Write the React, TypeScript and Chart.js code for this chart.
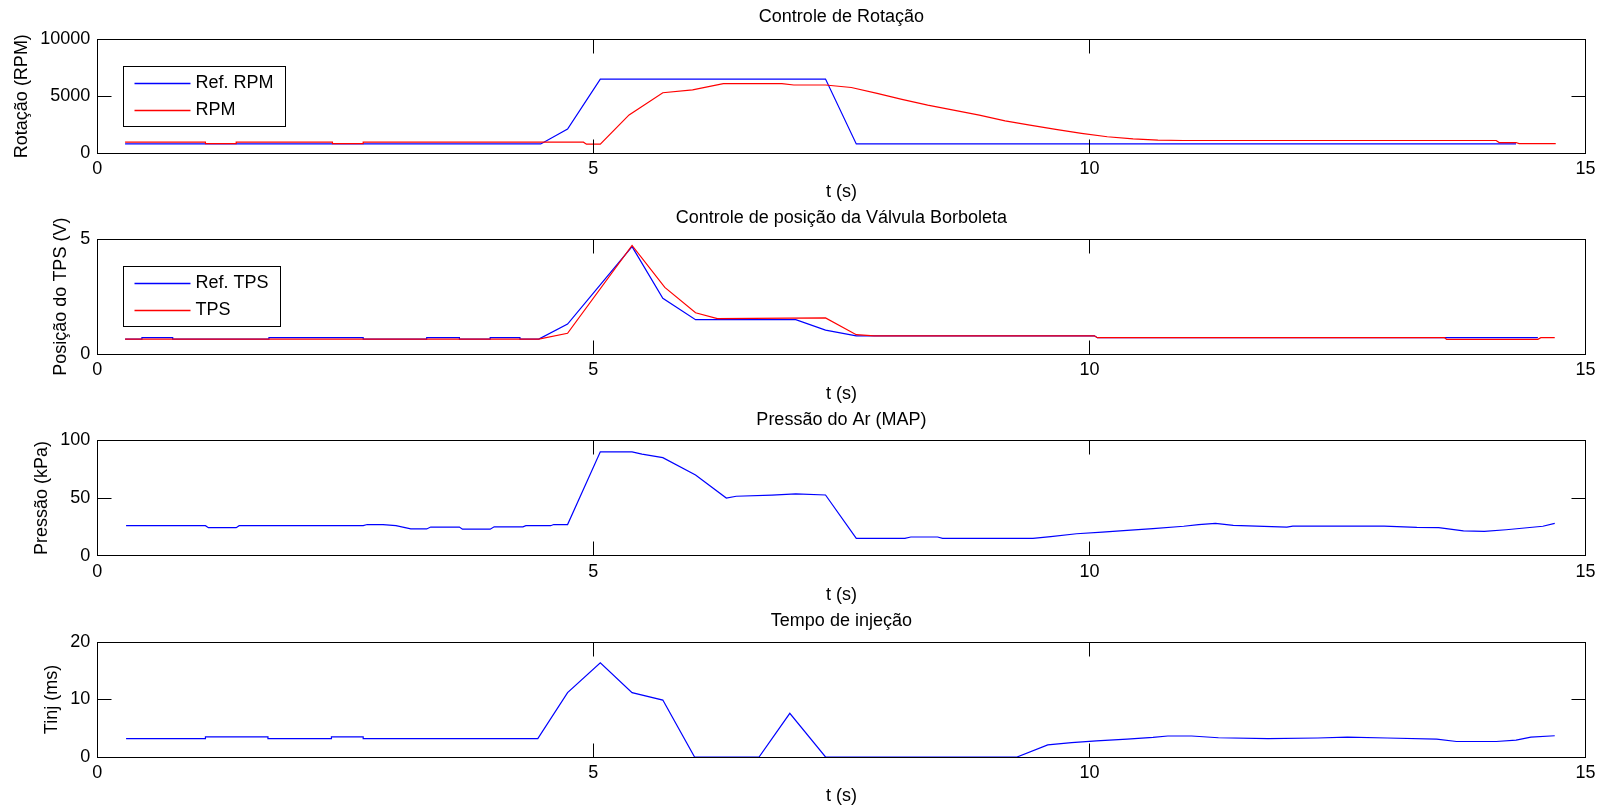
import React, { useEffect, useRef } from "react";
import { Chart, registerables } from "chart.js";

Chart.register(...registerables);

const FONT = '"Liberation Sans", Arial, sans-serif';

// ---------- shared axis ----------
const X_TICKS = [0, 5, 10, 15];
const X_LABEL = "t (s)";

// ---------- panel texts ----------
const TITLES = [
  "Controle de Rotação",
  "Controle de posição da Válvula Borboleta",
  "Pressão do Ar (MAP)",
  "Tempo de injeção",
];
const Y_LABELS = ["Rotação (RPM)", "Posição do TPS (V)", "Pressão (kPa)", "Tinj (ms)"];
const Y_TICKS_RPM = [0, 5000, 10000];
const Y_TICKS_TPS = [0, 5];
const Y_TICKS_MAP = [0, 50, 100];
const Y_TICKS_TINJ = [0, 10, 20];

// ---------- data: panel 1 (RPM) ----------
const REF_RPM_T = [0.28, 4.47, 4.74, 5.07, 7.34, 7.65, 14.3];
const REF_RPM_V = [800, 800, 2100, 6500, 6500, 800, 800];
const RPM_T = [
  0.28, 1.09, 1.09, 1.4, 1.4, 2.37, 2.37, 2.68, 2.68, 4.9, 4.93, 5.07, 5.36, 5.7, 6.0, 6.31, 6.9,
  7.02, 7.34, 7.6, 7.86, 8.11, 8.37, 8.63, 8.89, 9.15, 9.4, 9.66, 9.92, 10.18, 10.44, 10.69, 10.95,
  14.1, 14.13, 14.3, 14.33, 14.7,
];
const RPM_V = [
  950, 950, 830, 830, 950, 950, 830, 830, 950, 950, 780, 780, 3350, 5300, 5550, 6100, 6100, 5980,
  5980, 5760, 5240, 4710, 4210, 3770, 3330, 2830, 2450, 2080, 1730, 1430, 1250, 1140, 1100, 1100,
  920, 920, 830, 830,
];

// ---------- data: panel 2 (TPS) ----------
const REF_TPS_T = [
  0.28, 0.45, 0.45, 0.76, 0.76, 1.73, 1.73, 2.68, 2.68, 3.32, 3.32, 3.65, 3.65, 3.96, 3.96, 4.26,
  4.26, 4.45, 4.74, 5.39, 5.7, 6.03, 7.04, 7.34, 7.65, 10.05, 10.08, 14.52,
];
const REF_TPS_V = [
  0.66, 0.66, 0.72, 0.72, 0.66, 0.66, 0.72, 0.72, 0.66, 0.66, 0.72, 0.72, 0.66, 0.66, 0.72, 0.72,
  0.66, 0.66, 1.31, 4.67, 2.43, 1.5, 1.5, 1.05, 0.8, 0.8, 0.72, 0.72,
];
const TPS_T = [0.28, 4.45, 4.74, 5.39, 5.72, 6.03, 6.25, 7.34, 7.65, 7.83, 10.05, 10.08, 13.58, 13.6, 14.52, 14.55, 14.69];
const TPS_V = [0.66, 0.66, 0.91, 4.72, 2.9, 1.8, 1.55, 1.58, 0.85, 0.8, 0.8, 0.72, 0.72, 0.65, 0.65, 0.72, 0.72];

// ---------- data: panel 3 (MAP) ----------
const MAP_T = [
  0.29, 1.09, 1.12, 1.4, 1.43, 2.68, 2.72, 2.88, 3.01, 3.16, 3.32, 3.36, 3.65, 3.68, 3.96, 4.0, 4.29,
  4.32, 4.57, 4.6, 4.74, 5.07, 5.39, 5.49, 5.7, 6.03, 6.34, 6.44, 6.8, 7.04, 7.34, 7.65, 8.14, 8.2,
  8.47, 8.52, 9.43, 9.61, 9.87, 10.13, 10.38, 10.64, 10.95, 11.1, 11.27, 11.45, 11.99, 12.05, 12.97,
  13.3, 13.52, 13.77, 13.98, 14.2, 14.57, 14.69,
];
const MAP_V = [
  26, 26, 24.3, 24.3, 26, 26, 27, 27, 26, 23.2, 23.2, 24.8, 24.8, 23, 23, 25, 25, 26, 26, 27, 27, 90,
  90, 88, 85, 70, 50, 51.5, 52.5, 53.5, 52.6, 15, 15, 16.2, 16.2, 15, 15, 16.6, 19, 20.5, 22, 23.5,
  25.5, 27, 28, 26.3, 24.7, 25.7, 25.7, 24.5, 24.3, 21.5, 21, 22.5, 25.5, 28,
];

// ---------- data: panel 4 (Tinj) ----------
const TINJ_T = [
  0.29, 1.09, 1.09, 1.72, 1.72, 2.36, 2.36, 2.68, 2.68, 4.44, 4.74, 5.07, 5.39, 5.7, 6.02, 6.67, 6.98,
  7.34, 9.27, 9.58, 9.82, 10.07, 10.38, 10.64, 10.79, 11.03, 11.3, 11.8, 12.3, 12.6, 13.0, 13.5, 13.7,
  14.1, 14.3, 14.45, 14.69,
];
const TINJ_V = [
  3.2, 3.2, 3.5, 3.5, 3.2, 3.2, 3.5, 3.5, 3.2, 3.2, 11.2, 16.4, 11.2, 9.9, 0, 0, 7.6, 0, 0, 2.1, 2.5,
  2.8, 3.1, 3.4, 3.65, 3.65, 3.35, 3.2, 3.3, 3.45, 3.3, 3.1, 2.7, 2.7, 2.95, 3.45, 3.7,
];

// ---------- series definitions ----------
const BLUE = "#0000ff";
const RED = "#ff0000";

type Series = { label: string; t: number[]; v: number[]; color: string };

const PANEL_SERIES: Series[][] = [
  [
    { label: "Ref. RPM", t: REF_RPM_T, v: REF_RPM_V, color: BLUE },
    { label: "RPM", t: RPM_T, v: RPM_V, color: RED },
  ],
  [
    { label: "Ref. TPS", t: REF_TPS_T, v: REF_TPS_V, color: BLUE },
    { label: "TPS", t: TPS_T, v: TPS_V, color: RED },
  ],
  [{ label: "MAP", t: MAP_T, v: MAP_V, color: BLUE }],
  [{ label: "Tinj", t: TINJ_T, v: TINJ_V, color: BLUE }],
];
const PANEL_YTICKS = [Y_TICKS_RPM, Y_TICKS_TPS, Y_TICKS_MAP, Y_TICKS_TINJ];
const PANEL_LEGEND = [true, true, false, false];

// ---------- layout (pixels) ----------
const W = 1602;
const PLOT_LEFT = 97.3;
const PLOT_RIGHT = 1585.5;
const PLOT_TOP = [39.3, 239, 440.3, 642];
const PLOT_BOTTOM = [153, 354.3, 555.7, 757];
const CANVAS_TOP = [0, 199, 400, 602];
const CANVAS_H = [204, 206, 207, 206];
const TITLE_CENTER = [17, 218.5, 420, 621.5];
const YTITLE_CENTER_X = [22.5, 61, 42, 52];
const FS = 18;
const LH = FS * 1.2;

const matlabPlugin = {
  id: "matlab",
  afterDraw(chart: any, _args: any, opts: any) {
    const { ctx, chartArea: a } = chart;
    const L = Math.floor(a.left) + 0.5;
    const R = Math.floor(a.right) + 0.5;
    const T = Math.floor(a.top) + 0.5;
    const B = Math.floor(a.bottom) + 0.5;
    const TL = 14;
    ctx.save();
    ctx.strokeStyle = "#000";
    ctx.lineWidth = 1;
    ctx.beginPath();
    for (const tk of chart.scales.x.ticks) {
      const px = Math.floor(chart.scales.x.getPixelForValue(tk.value)) + 0.5;
      if (px <= L + 1 || px >= R - 1) continue;
      ctx.moveTo(px, B);
      ctx.lineTo(px, B - TL);
      ctx.moveTo(px, T);
      ctx.lineTo(px, T + TL);
    }
    for (const tk of chart.scales.y.ticks) {
      const py = Math.floor(chart.scales.y.getPixelForValue(tk.value)) + 0.5;
      if (py <= T + 1 || py >= B - 1) continue;
      ctx.moveTo(L, py);
      ctx.lineTo(L + TL, py);
      ctx.moveTo(R, py);
      ctx.lineTo(R - TL, py);
    }
    ctx.stroke();
    ctx.strokeRect(L, T, R - L, B - T);

    if (opts && opts.legend) {
      ctx.font = `${FS}px ${FONT}`;
      const ds = chart.data.datasets;
      let maxW = 0;
      for (const d of ds) maxW = Math.max(maxW, ctx.measureText(d.label).width);
      const bx = Math.floor(a.left + 26) + 0.5;
      const by = Math.floor(a.top + 27.5) + 0.5;
      const bw = Math.round(72 + maxW + 12);
      const bh = 60;
      ctx.fillStyle = "#fff";
      ctx.fillRect(bx, by, bw, bh);
      ctx.strokeStyle = "#000";
      ctx.strokeRect(bx, by, bw, bh);
      const rows = [16.5, 43.5];
      ds.forEach((d: any, i: number) => {
        const ry = Math.floor(by + rows[i]) + 0.5;
        ctx.strokeStyle = d.borderColor;
        ctx.lineWidth = 1.3;
        ctx.beginPath();
        ctx.moveTo(bx + 11, ry);
        ctx.lineTo(bx + 67, ry);
        ctx.stroke();
        ctx.fillStyle = "#000";
        ctx.textBaseline = "middle";
        ctx.textAlign = "left";
        ctx.fillText(d.label, bx + 72, ry);
      });
    }
    ctx.restore();
  },
};

function makeConfig(i: number): any {
  const series = PANEL_SERIES[i];
  const yTicks = PANEL_YTICKS[i];
  const ct = CANVAS_TOP[i];
  const titleBlock = PLOT_TOP[i] - ct;
  const titlePadTop = TITLE_CENTER[i] - ct - LH / 2;
  const titlePadBottom = titleBlock - LH - titlePadTop;
  const xAxisH = CANVAS_H[i] - (PLOT_BOTTOM[i] - ct);
  const xTitleCenter = PLOT_BOTTOM[i] + 39.5;
  const xTitlePadBottom = Math.max(0, ct + CANVAS_H[i] - LH / 2 - xTitleCenter);
  const font = { family: FONT, size: FS, weight: "normal" as const };

  return {
    type: "line",
    data: {
      datasets: series.map((s, k) => ({
        label: s.label,
        data: s.t.map((x, j) => ({ x, y: s.v[j] })),
        borderColor: s.color,
        backgroundColor: s.color,
        borderWidth: 1.2,
        pointRadius: 0,
        tension: 0,
        fill: false,
        order: series.length - k,
      })),
    },
    options: {
      responsive: false,
      maintainAspectRatio: false,
      animation: false,
      events: [],
      layout: { padding: { left: 0, right: W - PLOT_RIGHT, top: 0, bottom: 0 } },
      plugins: {
        legend: { display: false },
        tooltip: { enabled: false },
        title: {
          display: true,
          text: TITLES[i],
          fullSize: false,
          color: "#000",
          font,
          padding: { top: titlePadTop, bottom: titlePadBottom },
        },
        matlab: { legend: PANEL_LEGEND[i] },
      },
      scales: {
        x: {
          type: "linear",
          min: 0,
          max: 15,
          afterBuildTicks: (s: any) => {
            s.ticks = X_TICKS.map((v) => ({ value: v }));
          },
          afterFit: (s: any) => {
            s.height = xAxisH;
          },
          grid: { display: false, drawTicks: false },
          border: { display: false },
          ticks: {
            padding: 16 - LH / 2,
            color: "#000",
            font,
            maxRotation: 0,
            autoSkip: false,
            callback: (v: any) => String(v),
          },
          title: {
            display: true,
            text: X_LABEL,
            color: "#000",
            font,
            padding: { top: 0, bottom: xTitlePadBottom },
          },
        },
        y: {
          type: "linear",
          min: yTicks[0],
          max: yTicks[yTicks.length - 1],
          afterBuildTicks: (s: any) => {
            s.ticks = yTicks.map((v) => ({ value: v }));
          },
          afterFit: (s: any) => {
            s.width = PLOT_LEFT;
          },
          grid: { display: false, drawTicks: false },
          border: { display: false },
          ticks: {
            padding: 7,
            color: "#000",
            font,
            autoSkip: false,
            callback: (v: any) => String(v),
          },
          title: {
            display: true,
            text: Y_LABELS[i],
            color: "#000",
            font,
            padding: { top: YTITLE_CENTER_X[i] - LH / 2, bottom: 0 },
          },
        },
      },
    },
    plugins: [matlabPlugin],
  };
}

export default function App() {
  const refs = [
    useRef<HTMLCanvasElement>(null),
    useRef<HTMLCanvasElement>(null),
    useRef<HTMLCanvasElement>(null),
    useRef<HTMLCanvasElement>(null),
  ];

  useEffect(() => {
    document.body.style.overflow = "hidden";
    const charts = refs.map((r, i) => new Chart(r.current as HTMLCanvasElement, makeConfig(i)));
    return () => charts.forEach((c) => c.destroy());
  }, []);

  return (
    <div
      style={{
        position: "absolute",
        left: 0,
        top: 0,
        width: W,
        height: 808,
        background: "#fff",
        overflow: "hidden",
      }}
    >
      {refs.map((r, i) => (
        <canvas
          key={i}
          ref={r}
          width={W}
          height={CANVAS_H[i]}
          style={{
            position: "absolute",
            left: 0,
            top: CANVAS_TOP[i],
            width: W,
            height: CANVAS_H[i],
            display: "block",
          }}
        />
      ))}
    </div>
  );
}
